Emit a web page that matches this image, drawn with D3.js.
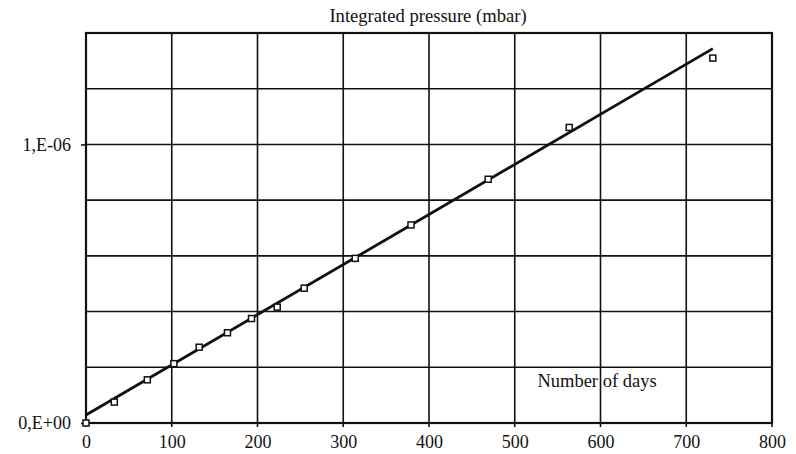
<!DOCTYPE html>
<html>
<head>
<meta charset="utf-8">
<script src="https://cdn.jsdelivr.net/npm/d3@7"></script>
<style>
  html, body { margin: 0; padding: 0; background: #fff; }
  svg { display: block; }
  text { font-family: "Liberation Serif", "DejaVu Serif", serif; fill: #111; }
</style>
</head>
<body>
<svg id="chart" width="796" height="454"></svg>
<script>
// Measured integrated pressure (mbar) versus elapsed days
const days = [0, 33, 71.5, 102.5, 132, 165, 193, 223, 254.5, 314, 379, 469, 563.5, 731];
const pressure = [0, 0.075e-6, 0.155e-6, 0.213e-6, 0.272e-6, 0.324e-6, 0.375e-6, 0.416e-6,
                  0.484e-6, 0.591e-6, 0.711e-6, 0.875e-6, 1.061e-6, 1.310e-6];

// Linear fit through the measurements (end points)
const fitDays = [0, 731];
const fitPressure = [0.029e-6, 1.344e-6];

// Axis ticks
const xTicks = [0, 100, 200, 300, 400, 500, 600, 700, 800];
const yGrid = [0, 0.2e-6, 0.4e-6, 0.6e-6, 0.8e-6, 1.0e-6, 1.2e-6, 1.4e-6];
const yLabelValues = [0, 1.0e-6];
const yLabelText = ["0,E+00", "1,E-06"];

const svg = d3.select("#chart");
const m = { left: 86, right: 772, top: 33, bottom: 423 };
const fontSize = 18;

const x = d3.scaleLinear().domain([0, 800]).range([m.left, m.right]);
const y = d3.scaleLinear().domain([0, 1.4e-6]).range([m.bottom, m.top]);

// Grid
const grid = svg.append("g").attr("stroke", "#111").attr("stroke-width", 1.6);
grid.selectAll("line.v").data(xTicks).join("line")
  .attr("class", "v")
  .attr("x1", d => x(d)).attr("x2", d => x(d))
  .attr("y1", m.top).attr("y2", m.bottom + 4);
grid.selectAll("line.h").data(yGrid).join("line")
  .attr("class", "h")
  .attr("x1", m.left).attr("x2", m.right)
  .attr("y1", d => y(d)).attr("y2", d => y(d));

// Frame
svg.append("rect")
  .attr("x", m.left).attr("y", m.top)
  .attr("width", m.right - m.left).attr("height", m.bottom - m.top)
  .attr("fill", "none").attr("stroke", "#111").attr("stroke-width", 2.2);

// X axis labels
const xAxis = d3.axisBottom(x).tickValues(xTicks).tickSize(0).tickPadding(12)
  .tickFormat(d3.format("d"));
const gx = svg.append("g").attr("transform", `translate(0,${m.bottom})`).call(xAxis);
gx.attr("font-size", fontSize).attr("font-family", "Liberation Serif");
gx.select(".domain").remove();
gx.selectAll("text").attr("fill", "#111");

// Y axis labels
const yAxis = d3.axisLeft(y).tickValues(yLabelValues).tickSize(5).tickPadding(10)
  .tickFormat((d, i) => yLabelText[i]);
const gy = svg.append("g").attr("transform", `translate(${m.left},0)`).call(yAxis);
gy.attr("font-size", fontSize).attr("font-family", "Liberation Serif");
gy.select(".domain").remove();
gy.selectAll("line").attr("stroke", "#111").attr("stroke-width", 1.6);
gy.selectAll("text").attr("fill", "#111");

// Fit line
const fit = fitDays.map((d, i) => [d, fitPressure[i]]);
svg.append("path")
  .datum(fit)
  .attr("fill", "none").attr("stroke", "#111").attr("stroke-width", 2.8)
  .attr("d", d3.line().x(d => x(d[0])).y(d => y(d[1])));

// Measurements
svg.append("g").selectAll("rect").data(days).join("rect")
  .attr("x", (d, i) => x(d) - 3)
  .attr("y", (d, i) => y(pressure[i]) - 3)
  .attr("width", 6).attr("height", 6)
  .attr("fill", "#fff").attr("stroke", "#111").attr("stroke-width", 1.5);

// Titles
svg.append("text").attr("x", 428).attr("y", 22)
  .attr("text-anchor", "middle").attr("font-size", 18.6)
  .text("Integrated pressure (mbar)");
svg.append("text").attr("x", 597).attr("y", 387)
  .attr("text-anchor", "middle").attr("font-size", 18.5)
  .text("Number of days");
</script>
</body>
</html>
